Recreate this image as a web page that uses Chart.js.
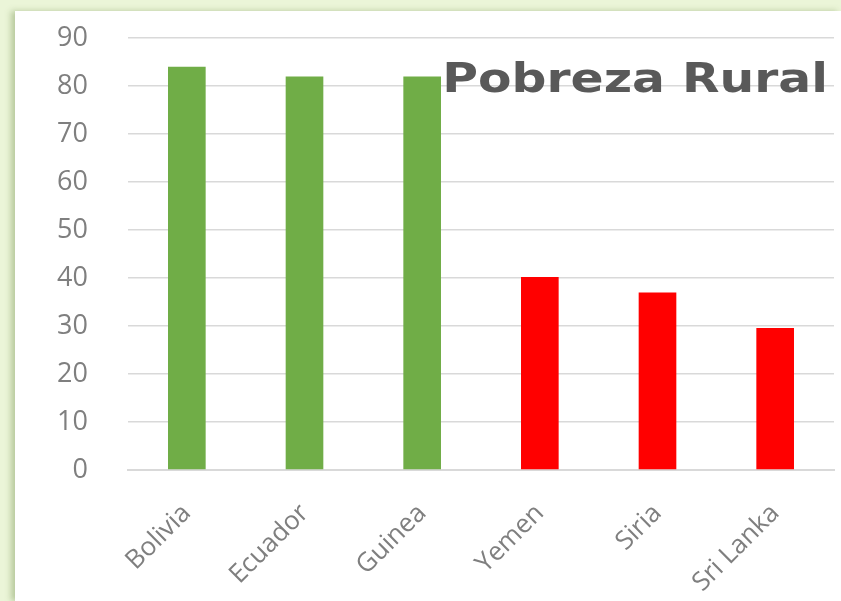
<!DOCTYPE html>
<html>
<head>
<meta charset="utf-8">
<script src="https://cdn.jsdelivr.net/npm/chart.js@4/dist/chart.umd.min.js"></script>
<style>
  html, body { margin: 0; padding: 0; }
  body { width: 841px; height: 601px; background: #ebf5d8; position: relative; overflow: hidden; }
  #panel {
    position: absolute; left: 15px; top: 11px; width: 826px; height: 590px;
    background: #fff; box-shadow: -4px 0 6px rgba(90, 120, 50, 0.35);
  }
  #chart { display: block; }
</style>
</head>
<body>
<div id="panel"><canvas id="chart" width="826" height="590"></canvas></div>
<script>
'use strict';

// Pobreza rural (%) por país
const countries = ['Bolivia', 'Ecuador', 'Guinea', 'Yemen', 'Siria', 'Sri Lanka'];
const ruralPoverty = [84, 82, 82, 40.2, 37, 29.6];
const barColors = ['#70ad47', '#70ad47', '#70ad47', '#ff0000', '#ff0000', '#ff0000'];
const chartTitle = 'Pobreza Rural';

let canvasElem = document.getElementById('chart');

// draws the title inside the plot, top right, like the original
const titlePlugin = {
  id: 'innerTitle',
  afterDraw(chart) {
    const ctx = chart.ctx;
    const area = chart.chartArea;
    const right = area.right - 6;
    ctx.save();
    ctx.translate(right, chart.scales.y.getPixelForValue(78.8));
    ctx.scale(1.22, 1); // the original text looks a bit stretched
    ctx.font = 'bold 40px "DejaVu Sans"';
    ctx.fillStyle = '#595959';
    ctx.textAlign = 'right';
    ctx.textBaseline = 'alphabetic';
    ctx.fillText(chartTitle, 0, 0);
    ctx.restore();
  }
};

const chartData = {
  labels: countries,
  datasets: [
    {
      label: chartTitle,
      data: ruralPoverty,
      backgroundColor: barColors,
      borderWidth: 0,
      barPercentage: 0.32,
      categoryPercentage: 1,
    },
  ],
};

const chartConfig = {
  type: 'bar',
  data: chartData,
  options: {
    responsive: false,
    animation: false,
    layout: { padding: { top: 27, right: 7, left: 0, bottom: 0 } },
    plugins: {
      legend: { display: false },
      tooltip: { enabled: false },
    },
    scales: {
      x: {
        grid: { display: false, drawTicks: false },
        border: { color: '#d9d9d9', width: 2 },
        ticks: {
          color: '#7f7f7f',
          font: { family: 'Open Sans', size: 26 },
          minRotation: 45,
          maxRotation: 45,
          padding: 28,
        },
        afterFit(scale) { scale.height = 131; },
      },
      y: {
        min: 0,
        max: 90,
        grid: { color: '#d9d9d9', lineWidth: 1.5, drawTicks: false },
        border: { display: false },
        ticks: {
          stepSize: 10,
          color: '#7f7f7f',
          font: { family: 'Open Sans', size: 27 },
          padding: 40,
        },
        afterFit(scale) {
          scale.width = 113;
          scale.paddingTop = 0;
          scale.paddingBottom = 0;
        },
      },
    },
  },
  plugins: [titlePlugin],
};

const myChart = new Chart(canvasElem, chartConfig);
</script>
</body>
</html>
